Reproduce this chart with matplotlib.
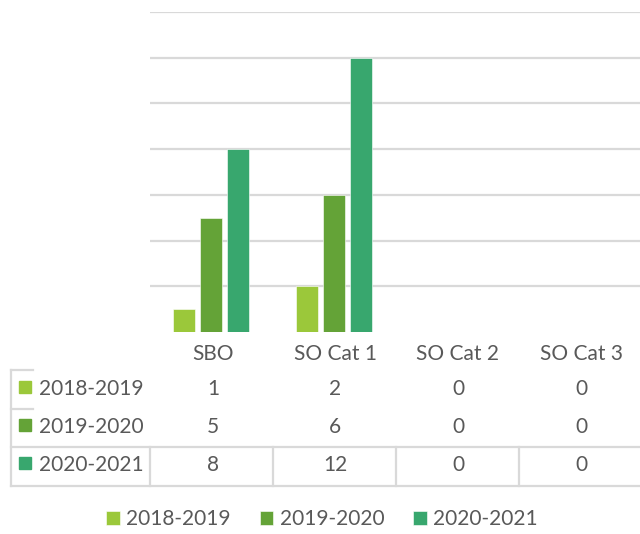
import matplotlib.pyplot as plt
from matplotlib.patches import Rectangle
import numpy as np

plt.rcParams['font.family'] = ['Lato', 'DejaVu Sans']

# data
categories = ['SBO', 'SO Cat 1', 'SO Cat 2', 'SO Cat 3']
seasons = ['2018-2019', '2019-2020', '2020-2021']
v_2018 = [1, 2, 0, 0]
v_2019 = [5, 6, 0, 0]
v_2020 = [8, 12, 0, 0]
values = [v_2018, v_2019, v_2020]
colors = ['#9BC83A', '#64A337', '#38A76E']
text_color = '#595959'

W, H = 640, 534
fig = plt.figure(figsize=(W / 100, H / 100), dpi=100)

# plot area in pixels: left 149.5, right 641.5, top 12, bottom 332
ax = fig.add_axes([149.5 / W, (H - 332) / H, 492 / W, 320 / H])
x = np.arange(len(categories))
step, width = 0.22, 0.18
for i, vals in enumerate(values):
    ax.bar(x + (i - 1) * step, vals, width, color=colors[i],
           edgecolor='white', linewidth=0.4, label=seasons[i], zorder=3)
ax.set_xlim(-0.5, 3.5)
ax.set_ylim(0, 14)
ax.set_yticks(np.arange(2, 15, 2))
ax.yaxis.grid(True, color='#D9D9D9', linewidth=1.6)
ax.tick_params(left=False, bottom=False, labelleft=False, labelbottom=False)
for s in ax.spines.values():
    s.set_visible(False)

# overlay axes in pixel coordinates for the data table
tx = fig.add_axes([0, 0, 1, 1])
tx.set_xlim(0, W)
tx.set_ylim(H, 0)
tx.axis('off')
tx.patch.set_alpha(0)

col_x = [213, 335, 458, 581]
fs = 15
for cx, c in zip(col_x, categories):
    tx.text(cx, 352, c, ha='center', va='center_baseline', fontsize=fs, color=text_color)

row_y = [387, 425, 463]
for ry, name, vals, col in zip(row_y, seasons, values, colors):
    tx.add_patch(Rectangle((19, ry - 6), 12, 12, color=col))
    tx.text(39, ry, name, ha='left', va='center_baseline', fontsize=fs, color=text_color)
    for cx, v in zip(col_x, vals):
        tx.text(cx, ry, str(v), ha='center', va='center_baseline', fontsize=fs, color=text_color)

lc, lw = '#D9D9D9', 1.6
tx.plot([11, 11], [370, 486], color=lc, lw=lw)
for yy in [370, 409]:
    tx.plot([11, 33], [yy, yy], color=lc, lw=lw)
for yy in [447, 486]:
    tx.plot([11, 640], [yy, yy], color=lc, lw=lw)
for xx in [150, 273, 396, 519]:
    tx.plot([xx, xx], [447, 486], color=lc, lw=lw)

handles, labels = ax.get_legend_handles_labels()
fig.legend(handles, labels, loc='center', bbox_to_anchor=(322 / W, (H - 519) / H),
           ncol=3, frameon=False, fontsize=fs, labelcolor=text_color,
           handlelength=0.65, handleheight=0.65, handletextpad=0.3,
           columnspacing=1.4)

fig.savefig('out.png', dpi=100)
